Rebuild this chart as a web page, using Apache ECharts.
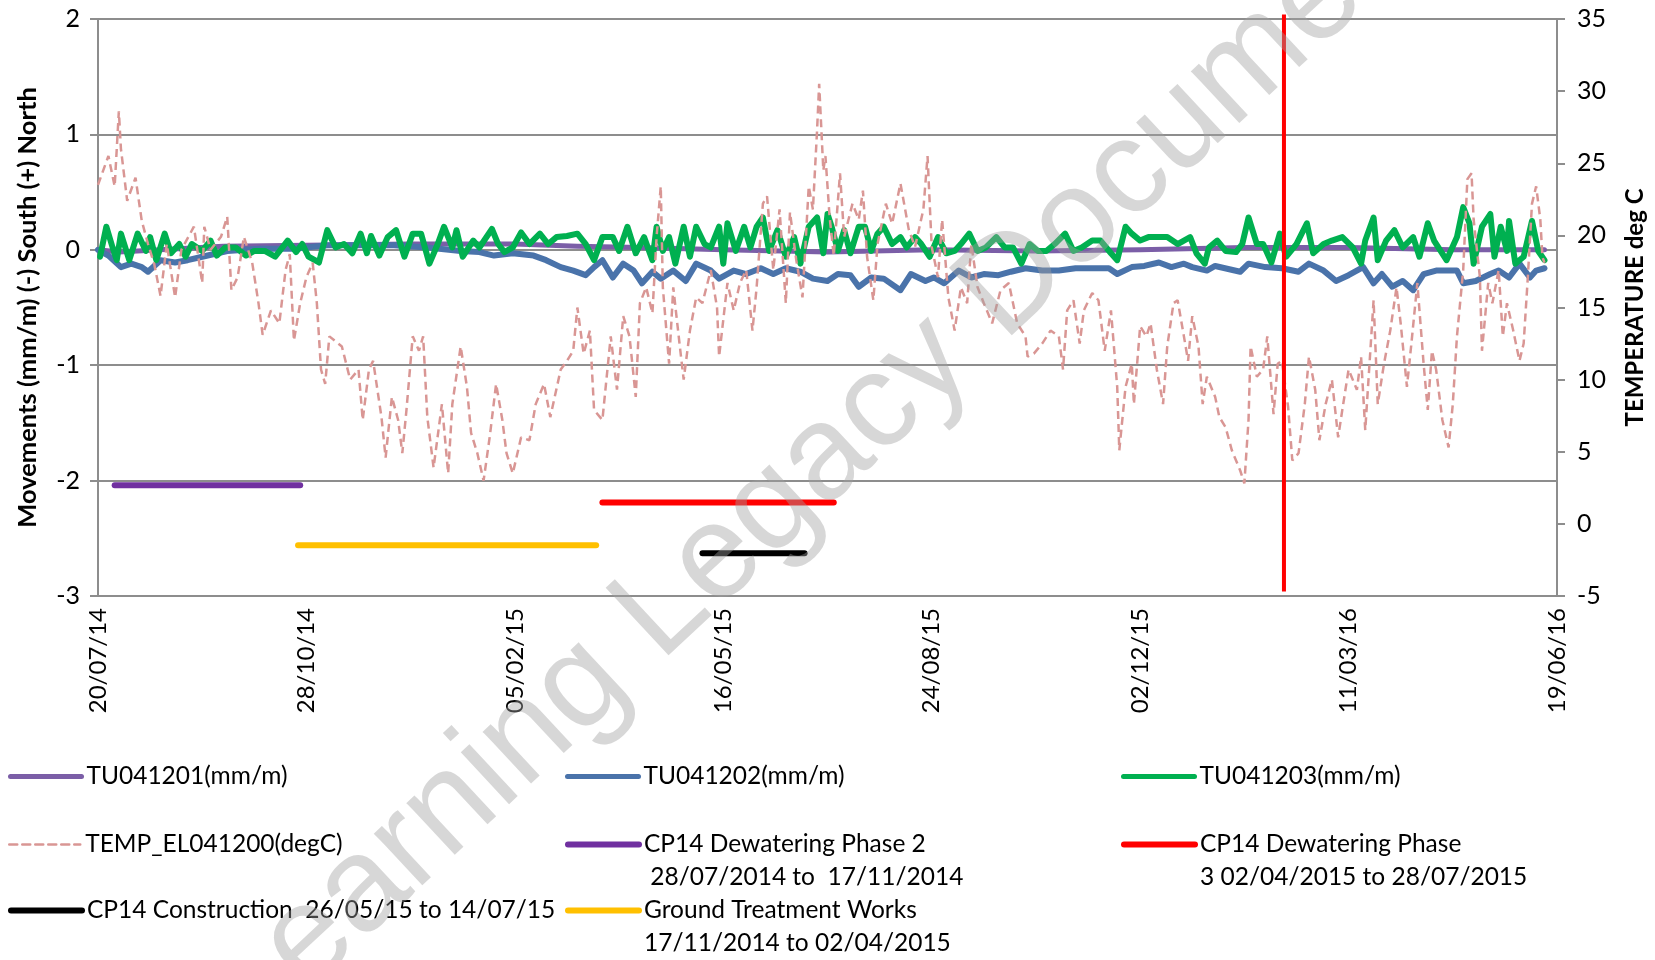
<!DOCTYPE html>
<html>
<head>
<meta charset="utf-8">
<script src="https://cdn.jsdelivr.net/npm/echarts@6/dist/echarts.min.js"></script>
<style>
html, body { margin: 0; padding: 0; background: #fff; }
#chart { width: 1655px; height: 960px; }
</style>
</head>
<body>
<div id="chart"></div>
<script>
// days are counted from 20/07/2014 (x axis runs 0..700, a label every 100 days)
const startDate = Date.UTC(2014, 6, 20);

// TU041201 (purple)
const tu1Days = [0, 10, 30, 60, 100, 150, 200, 230, 260, 300, 350, 400, 450, 500, 550, 600, 650, 694];
const tu1Vals = [0, -0.02, 0, 0.03, 0.04, 0.05, 0.05, 0.03, 0.02, 0, -0.02, 0, -0.01, 0, 0.02, 0.02, 0, 0];

// TU041202 (blue)
const tu2Days = [0, 5, 11, 16, 21, 24, 30, 37, 43, 50, 62, 78, 94, 110, 126, 142, 158, 174, 183, 190, 199, 209, 215, 222, 228, 234, 238, 242, 247, 252, 257, 261, 266, 270, 276, 282, 287, 294, 298, 305, 311, 318, 324, 330, 337, 343, 350, 355, 361, 365, 371, 377, 385, 390, 397, 401, 406, 413, 419, 425, 432, 438, 445, 453, 461, 469, 477, 485, 489, 496, 502, 509, 515, 521, 525, 532, 536, 548, 552, 560, 568, 576, 581, 588, 594, 600, 607, 612, 616, 621, 626, 631, 636, 642, 652, 655, 661, 668, 672, 677, 682, 687, 690, 694];
const tu2Vals = [0, -0.05, -0.15, -0.12, -0.15, -0.19, -0.09, -0.11, -0.09, -0.06, -0.01, 0.01, 0.01, 0.04, 0.04, 0.04, 0.02, -0.01, -0.02, -0.05, -0.03, -0.05, -0.09, -0.15, -0.18, -0.22, -0.15, -0.09, -0.24, -0.12, -0.18, -0.29, -0.19, -0.25, -0.18, -0.27, -0.12, -0.18, -0.25, -0.18, -0.21, -0.16, -0.21, -0.16, -0.19, -0.25, -0.27, -0.21, -0.22, -0.32, -0.24, -0.25, -0.35, -0.21, -0.27, -0.24, -0.29, -0.18, -0.24, -0.21, -0.22, -0.19, -0.16, -0.18, -0.18, -0.16, -0.16, -0.16, -0.21, -0.15, -0.14, -0.11, -0.15, -0.12, -0.15, -0.18, -0.14, -0.19, -0.12, -0.15, -0.16, -0.19, -0.12, -0.18, -0.27, -0.22, -0.15, -0.29, -0.21, -0.32, -0.27, -0.35, -0.21, -0.18, -0.18, -0.29, -0.27, -0.21, -0.18, -0.24, -0.12, -0.24, -0.18, -0.16];

// TU041203 (green)
const tu3Days = [1, 4, 7, 9, 11, 15, 19, 23, 25, 28, 32, 35, 39, 42, 45, 50, 54, 57, 61, 66, 71, 75, 80, 85, 91, 95, 98, 101, 106, 110, 114, 118, 122, 126, 129, 131, 135, 139, 143, 147, 151, 155, 159, 163, 166, 170, 172, 175, 180, 183, 189, 192, 195, 199, 203, 207, 212, 216, 220, 225, 230, 234, 238, 242, 247, 250, 254, 258, 262, 266, 268, 271, 274, 277, 281, 284, 287, 291, 294, 298, 300, 302, 306, 310, 313, 316, 319, 322, 326, 330, 334, 337, 341, 345, 348, 350, 352, 355, 358, 361, 365, 368, 371, 374, 377, 381, 385, 388, 392, 395, 399, 403, 407, 411, 414, 418, 422, 426, 431, 435, 439, 443, 447, 451, 455, 459, 464, 468, 472, 477, 481, 486, 489, 493, 496, 500, 504, 509, 513, 518, 521, 524, 527, 531, 533, 537, 541, 546, 549, 552, 556, 559, 563, 567, 570, 575, 580, 583, 588, 592, 597, 602, 606, 608, 612, 614, 618, 622, 626, 631, 634, 638, 641, 647, 652, 655, 658, 660, 664, 668, 670, 673, 676, 677, 680, 684, 688, 691, 694];
const tu3Vals = [-0.06, 0.2, 0.02, -0.09, 0.14, -0.09, 0.14, -0.01, 0.11, -0.09, 0.14, -0.03, 0.05, -0.06, 0.05, -0.01, 0.08, -0.05, 0.02, 0.02, -0.05, -0.01, -0.01, -0.06, 0.08, -0.02, 0.05, -0.06, -0.11, 0.17, 0.02, 0.05, -0.03, 0.14, -0.03, 0.12, -0.05, 0.11, 0.17, -0.06, 0.14, 0.14, -0.12, 0.05, 0.2, 0.02, 0.17, -0.06, 0.08, 0.02, 0.18, 0.05, -0.02, 0.02, 0.15, 0.05, 0.14, 0.05, 0.11, 0.12, 0.14, 0.05, -0.09, 0.11, 0.11, -0.01, 0.2, -0.03, 0.11, -0.09, 0.2, -0.01, 0.11, -0.12, 0.2, -0.06, 0.2, 0.05, 0.02, 0.2, -0.12, 0.23, -0.01, 0.2, 0.02, 0.2, 0.28, -0.01, 0.17, -0.06, 0.11, -0.12, 0.2, 0.28, -0.03, 0.31, 0.2, -0.01, 0.17, -0.03, 0.2, 0.2, -0.01, 0.14, 0.2, 0.05, 0.11, 0.02, 0.11, 0.05, -0.06, 0.11, -0.03, -0.01, 0.05, 0.14, -0.01, 0.02, 0.11, 0.02, 0.02, -0.12, 0.05, -0.01, -0.01, 0.05, 0.14, -0.01, 0.02, 0.08, 0.08, -0.03, -0.09, 0.2, 0.14, 0.08, 0.11, 0.11, 0.11, 0.05, 0.08, 0.11, -0.03, -0.12, 0.02, 0.08, -0.01, -0.02, 0.05, 0.28, 0.05, 0.05, -0.11, 0.14, -0.06, 0.05, 0.23, -0.03, 0.05, 0.08, 0.11, 0.02, -0.12, 0.08, 0.28, -0.09, 0.08, 0.17, 0.02, 0.11, -0.06, 0.23, 0.08, -0.09, 0.11, 0.37, 0.23, -0.12, 0.2, 0.31, -0.06, 0.2, -0.01, 0.25, -0.12, -0.06, 0.25, -0.01, -0.09];

// TEMP_EL041200 (degC, right axis)
const tempDays = [0, 5, 8, 10, 11, 14, 18, 21, 24, 27, 30, 33, 37, 40, 46, 50, 51, 54, 59, 62, 64, 67, 70, 74, 77, 79, 83, 87, 90, 92, 94, 97, 100, 103, 105, 107, 109, 111, 117, 121, 125, 127, 130, 132, 136, 138, 141, 144, 146, 148, 151, 154, 156, 158, 161, 165, 168, 170, 174, 177, 179, 182, 185, 188, 191, 194, 196, 199, 203, 207, 210, 214, 217, 222, 225, 228, 230, 233, 236, 238, 242, 246, 249, 252, 255, 258, 260, 263, 266, 268, 270, 271, 274, 276, 279, 281, 284, 287, 290, 294, 297, 298, 302, 305, 308, 311, 314, 316, 319, 321, 324, 327, 330, 332, 335, 338, 341, 343, 345, 346, 348, 349, 351, 353, 356, 358, 362, 365, 367, 369, 372, 374, 378, 381, 385, 389, 392, 396, 398, 400, 403, 405, 408, 411, 414, 417, 419, 422, 425, 429, 433, 437, 441, 445, 446, 449, 453, 457, 461, 463, 465, 468, 471, 473, 477, 480, 483, 486, 489, 490, 493, 496, 497, 500, 503, 505, 508, 511, 513, 516, 518, 521, 523, 525, 528, 530, 532, 536, 538, 541, 544, 548, 550, 552, 553, 556, 559, 561, 564, 566, 568, 571, 573, 576, 579, 581, 584, 586, 589, 592, 595, 597, 600, 604, 606, 608, 612, 614, 617, 620, 623, 625, 628, 630, 633, 636, 638, 640, 642, 645, 648, 650, 652, 655, 657, 659, 660, 663, 664, 667, 669, 672, 674, 676, 679, 682, 684, 686, 688, 690, 692, 693, 694];
const tempVals = [23.5, 25.5, 23.4, 28.6, 26, 22.4, 24, 21, 19.4, 18, 15.8, 19.4, 15.7, 19, 20.6, 16.7, 20.6, 19, 19.9, 21.3, 16.2, 17.1, 19.9, 18.1, 15.3, 13.1, 14.8, 13.9, 17.6, 18.7, 12.7, 15.3, 17.1, 18.1, 15.3, 10.7, 9.7, 13, 12.3, 10, 10.7, 7.2, 10.7, 11.3, 7.4, 4.6, 8.8, 7.2, 4.9, 7.9, 13, 12, 13, 7.4, 3.9, 8.3, 3.5, 8.3, 12.3, 9.5, 6.3, 4.9, 3.0, 6.1, 9.7, 7.2, 4.9, 3.5, 6.0, 5.8, 8.3, 9.7, 7.4, 10.7, 11.3, 12, 15, 11.8, 13.4, 7.9, 7.2, 13, 9.3, 14.4, 13, 8.8, 15.3, 16.4, 14.6, 19.9, 23.4, 16.4, 11.1, 16.4, 12.5, 10, 13.4, 15.7, 15.3, 17.6, 15, 11.6, 16.7, 14.8, 16.7, 17.6, 13.4, 16.4, 22.2, 22.7, 17.6, 21.8, 15.3, 21.6, 18.3, 15.7, 23.4, 21.8, 27.3, 30.5, 24.5, 25.5, 21.3, 18.6, 24.3, 19.9, 22.2, 21.1, 23.1, 18.5, 15.5, 19.4, 22.2, 20.8, 23.6, 20.4, 19.2, 21.8, 25.5, 19.2, 17.1, 21.1, 15.7, 13.4, 16.4, 15.3, 19.4, 16.4, 15.3, 13.9, 16.2, 16.7, 13.9, 13, 11.6, 11.8, 12.5, 13.4, 13, 10.7, 14.8, 15.5, 12.5, 14.8, 16, 15.5, 12, 14.8, 9.5, 5.1, 9.5, 11.1, 8.3, 13.7, 13, 13.9, 10.7, 8.3, 12.3, 15.3, 15.5, 13, 11.3, 14.4, 12.3, 8.3, 10.2, 8.8, 7.4, 6.7, 5.1, 3.7, 2.8, 7.2, 12.3, 10.2, 10.7, 13, 7.6, 11.1, 11.3, 8.1, 4.4, 4.9, 8.3, 11.6, 9.3, 5.8, 8.3, 10, 6.0, 7.9, 10.7, 9.3, 11.6, 6.5, 15.5, 8.3, 11.1, 13.4, 16.4, 13.9, 9.5, 12.3, 16.7, 11.1, 7.9, 12, 10.7, 7.2, 5.3, 8.3, 13, 17.6, 23.9, 24.3, 21.1, 17.1, 12, 16.7, 15.3, 17.6, 13, 15.3, 13.4, 11.3, 12.5, 17.1, 22.2, 23.4, 21.1, 18.5, 18.1];

// works periods as drawn on the chart: [start day, end day, level (mm/m)]
const dewater2 = [8, 97, -2.04];
const groundWorks = [96, 239, -2.56];
const dewater3 = [242, 353, -2.19];
const construction = [290, 339, -2.63];
// vertical marker
const markerDay = 569;
const markerRange = [-2.96, 2.04];

const FONT = 'Lato, "Open Sans", sans-serif';
const GRID_GREY = '#8d8d8d';

function pairs(xs, ys) {
    return xs.map(function (x, i) { return [x, ys[i]]; });
}
function span(p) {
    return [[p[0], p[2]], [p[1], p[2]]];
}
function fmtDate(v) {
    const d = new Date(startDate + v * 86400000);
    const dd = String(d.getUTCDate()).padStart(2, '0');
    const mm = String(d.getUTCMonth() + 1).padStart(2, '0');
    const yy = String(d.getUTCFullYear()).slice(2);
    return dd + '/' + mm + '/' + yy;
}

// two-line entries get an empty first line so the icon sits level with the first text line
const legendText = {
    'TU041201(mm/m)': 'TU041201(mm/m)',
    'TU041202(mm/m)': 'TU041202(mm/m)',
    'TU041203(mm/m)': 'TU041203(mm/m)',
    'TEMP_EL041200(degC)': 'TEMP_EL041200(degC)',
    'CP14 Dewatering Phase 2': '\nCP14 Dewatering Phase 2\n 28/07/2014 to  17/11/2014',
    'CP14 Dewatering Phase 3': '\nCP14 Dewatering Phase\n3 02/04/2015 to 28/07/2015',
    'CP14 Construction': 'CP14 Construction  26/05/15 to 14/07/15',
    'Ground Treatment Works': '\nGround Treatment Works\n17/11/2014 to 02/04/2015'
};

function legendAt(name, left, top, width) {
    return {
        data: [name],
        left: left,
        top: top,
        padding: 0,
        itemWidth: 71,
        itemHeight: 2,
        selectedMode: false,
        itemStyle: { opacity: 0 },
        lineStyle: { width: width, cap: 'round' },
        textStyle: { fontFamily: FONT, fontSize: 24.5, lineHeight: 33, color: '#000' },
        formatter: function (n) { return legendText[n]; }
    };
}

function lineSeries(name, data, color, width, axis, extra) {
    return Object.assign({
        name: name,
        type: 'line',
        yAxisIndex: axis,
        data: data,
        symbol: 'none',
        silent: true,
        animation: false,
        lineStyle: { color: color, width: width, cap: 'round', join: 'round' },
        itemStyle: { color: color }
    }, extra || {});
}

const chart = echarts.init(document.getElementById('chart'));
chart.setOption({
    backgroundColor: '#ffffff',
    animation: false,
    grid: { left: 98, right: 97, top: 19, bottom: 364 },
    xAxis: {
        type: 'value',
        min: 0,
        max: 700,
        interval: 100,
        axisLine: { lineStyle: { color: GRID_GREY, width: 2 } },
        axisTick: { show: false },
        splitLine: { show: false },
        axisLabel: {
            rotate: 90,
            margin: 12,
            fontFamily: FONT,
            fontSize: 24,
            color: '#000',
            formatter: fmtDate
        }
    },
    yAxis: [
        {
            type: 'value',
            min: -3,
            max: 2,
            interval: 1,
            name: 'Movements (mm/m) (-) South (+) North',
            nameLocation: 'middle',
            nameGap: 57,
            nameTextStyle: { fontFamily: FONT, fontSize: 25.5, fontWeight: 'bold', color: '#000' },
            axisLine: { show: true, lineStyle: { color: GRID_GREY, width: 2 } },
            axisTick: { show: true, length: 8, lineStyle: { color: GRID_GREY, width: 2 } },
            splitLine: { lineStyle: { color: GRID_GREY, width: 2 } },
            axisLabel: { margin: 18, fontFamily: FONT, fontSize: 25, color: '#000' }
        },
        {
            type: 'value',
            position: 'right',
            min: -5,
            max: 35,
            interval: 5,
            name: 'TEMPERATURE deg C',
            nameLocation: 'middle',
            nameGap: 66,
            nameTextStyle: { fontFamily: FONT, fontSize: 24, fontWeight: 'bold', color: '#000' },
            axisLine: { show: true, lineStyle: { color: GRID_GREY, width: 2 } },
            axisTick: { show: true, length: 8, lineStyle: { color: GRID_GREY, width: 2 } },
            splitLine: { show: false },
            axisLabel: { margin: 20, fontFamily: FONT, fontSize: 25, color: '#000' }
        }
    ],
    legend: [
        legendAt('TU041201(mm/m)', 8, 760, 5),
        legendAt('TEMP_EL041200(degC)', 8, 828, 2.5),
        legendAt('CP14 Construction', 8, 894, 6),
        legendAt('TU041202(mm/m)', 565, 760, 5),
        legendAt('CP14 Dewatering Phase 2', 565, 795, 6),
        legendAt('Ground Treatment Works', 565, 861, 6),
        legendAt('TU041203(mm/m)', 1121, 760, 5),
        legendAt('CP14 Dewatering Phase 3', 1121, 795, 6)
    ],
    series: [
        lineSeries('TU041201(mm/m)', pairs(tu1Days, tu1Vals), '#7b5ea7', 5, 0),
        lineSeries('TU041202(mm/m)', pairs(tu2Days, tu2Vals), '#4a73aa', 6, 0),
        lineSeries('TU041203(mm/m)', pairs(tu3Days, tu3Vals), '#00b050', 6, 0),
        lineSeries('TEMP_EL041200(degC)', pairs(tempDays, tempVals), '#d99694', 2.5, 1, {
            lineStyle: { color: '#d99694', width: 2.5, type: [8, 5], cap: 'butt' }
        }),
        lineSeries('CP14 Dewatering Phase 2', span(dewater2), '#7030a0', 6, 0),
        lineSeries('Ground Treatment Works', span(groundWorks), '#ffc000', 6, 0),
        lineSeries('CP14 Dewatering Phase 3', span(dewater3), '#ff0000', 6, 0),
        lineSeries('CP14 Construction', span(construction), '#000000', 6, 0),
        lineSeries('marker', [[markerDay, markerRange[0]], [markerDay, markerRange[1]]], '#ff0000', 4, 0, {
            clip: false,
            lineStyle: { color: '#ff0000', width: 4, cap: 'butt' }
        })
    ],
    graphic: [
        {
            // diagonal watermark across the chart
            type: 'text',
            x: 826,
            y: 458,
            rotation: 43 * Math.PI / 180,
            z: 100,
            silent: true,
            style: {
                text: 'Learning Legacy Document',
                fontFamily: '"Liberation Sans", Arial, sans-serif',
                fontSize: 134,
                fill: 'rgba(160,160,160,0.42)',
                align: 'center',
                verticalAlign: 'middle'
            }
        }
    ]
});
</script>
</body>
</html>
